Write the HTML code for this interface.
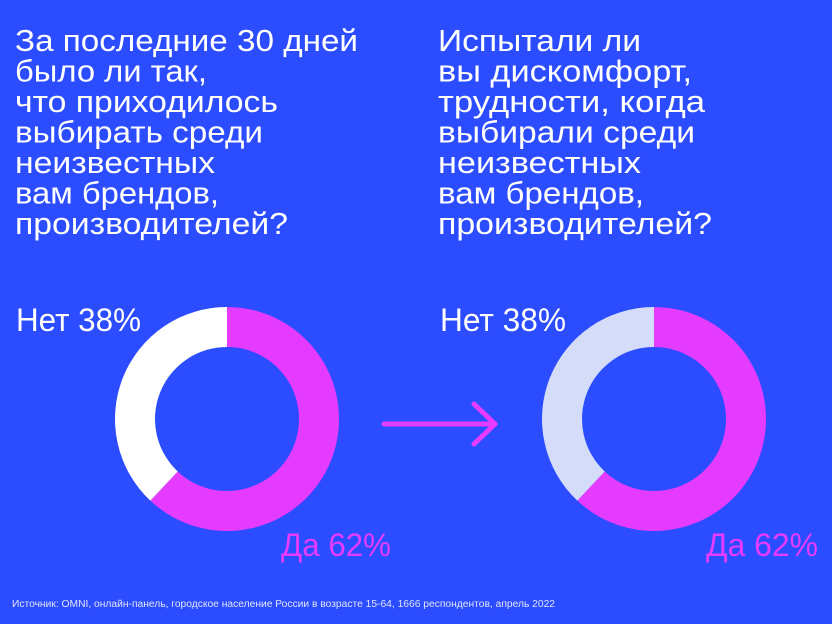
<!DOCTYPE html>
<html><head><meta charset="utf-8"><style>
html,body{margin:0;padding:0;background:#2c4dff;}
svg{display:block;font-family:"Liberation Sans","DejaVu Sans",sans-serif;}
</style></head><body>
<svg id="c" width="832" height="624" viewBox="0 0 832 624">
<rect width="832" height="624" fill="#2c4dff"/>
<g id="titles" fill="#ffffff" font-size="30.5"></g>
<g id="donuts"></g>
<g stroke="#e43bff" stroke-width="5" stroke-linecap="round" fill="none">
<line x1="384" y1="424" x2="495" y2="424"/>
<polyline points="474,404 495,424 474,444" stroke-linejoin="round"/>
</g>
<text x="12" y="607" font-size="10" fill="#dfe4ff" textLength="543" lengthAdjust="spacingAndGlyphs">Источник: OMNI, онлайн-панель, городское население России в возрасте 15-64, 1666 респондентов, апрель 2022</text>
</svg>
<script>
const NS='http://www.w3.org/2000/svg';
const categories=['Да','Нет'];
const leftValues=[62,38];
const rightValues=[62,38];
const leftTitle=['За последние 30 дней','было ли так,','что приходилось','выбирать среди','неизвестных','вам брендов,','производителей?'];
const rightTitle=['Испытали ли','вы дискомфорт,','трудности, когда','выбирали среди','неизвестных','вам брендов,','производителей?'];
const leftW=[343,192,263,248,200,204,273];
const rightW=[203,254,267,257,203,206,274];
function mk(tag,attrs,parent){const e=document.createElementNS(NS,tag);for(const k in attrs)e.setAttribute(k,attrs[k]);parent.appendChild(e);return e;}
const tg=document.getElementById('titles');
function title(lines,widths,x,name){
  lines.forEach((t,i)=>{
    const e=mk('text',{x:x,y:51+i*30.5,textLength:widths[i],lengthAdjust:'spacingAndGlyphs'},tg);
    
    
    e.textContent=t;
  });
}
title(leftTitle,leftW,15,'left-title');
title(rightTitle,rightW,438,'right-title');
const dg=document.getElementById('donuts');
function arc(cx,cy,r0,r1,a0,a1){
  const p=(r,a)=>[cx+r*Math.sin(a),cy-r*Math.cos(a)];
  const large=(a1-a0)>Math.PI?1:0;
  const [x0,y0]=p(r1,a0),[x1,y1]=p(r1,a1),[x2,y2]=p(r0,a1),[x3,y3]=p(r0,a0);
  return `M${x0},${y0}A${r1},${r1} 0 ${large} 1 ${x1},${y1}L${x2},${y2}A${r0},${r0} 0 ${large} 0 ${x3},${y3}Z`;
}
function donut(vals,cx,cy,colors,labelColors,name,labelPos){
  const tot=vals.reduce((a,b)=>a+b,0);let a=0;
  vals.forEach((v,i)=>{
    const a1=a+v/tot*2*Math.PI;
    const p=mk('path',{d:arc(cx,cy,72,112,a,a1),fill:colors[i]},dg);
    
    
    a=a1;
    const t=mk('text',{x:labelPos[i][0],y:labelPos[i][1],'font-size':32,fill:labelColors[i],textLength:labelPos[i][2],lengthAdjust:'spacingAndGlyphs'},dg);
    
    
    t.textContent=categories[i]+' '+v+'%';
  });
}
donut(leftValues,227,419,['#e43bff','#ffffff'],['#e43bff','#ffffff'],'left-donut',[[281,556,110],[16,331,125]]);
donut(rightValues,654,419,['#e43bff','#d4dcfa'],['#e43bff','#ffffff'],'right-donut',[[706,556,112],[440,331,126]]);
</script>
</body></html>
